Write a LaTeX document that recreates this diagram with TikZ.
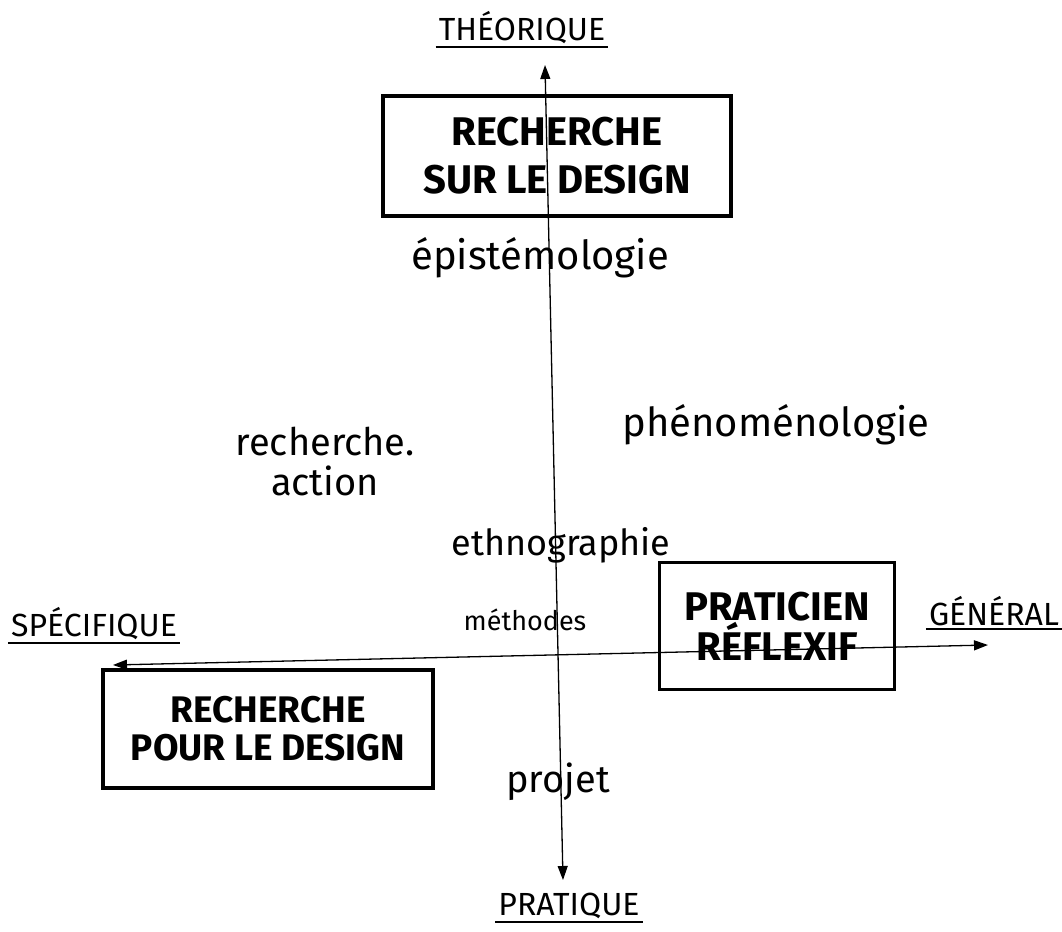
\documentclass[tikz,border=0pt]{standalone}
\usepackage{fontspec}
\setmainfont{Fira Sans}
\usetikzlibrary{arrows.meta}
\begin{document}
\begin{tikzpicture}[x=1pt,y=-1pt,
  boxnode/.style={draw,line width=3.5pt,align=center,inner sep=0pt},
  word/.style={inner sep=0pt,align=center},
  pole/.style={inner sep=3pt,font=\fontsize{32}{34}\selectfont},
  axis/.style={line width=1.3pt,{Triangle[length=14pt,width=10pt]}-{Triangle[length=14pt,width=10pt]}},
  uline/.style={line width=2pt}]
\useasboundingbox (0,0) rectangle (1062,931);
% axes
\coordinate (vtop) at (545,65);
\coordinate (vbot) at (563,880);
\coordinate (hleft) at (113,665);
\coordinate (hright) at (988,645);
\draw[axis] (vtop) -- (vbot);
\draw[axis] (hleft) -- (hright);
% boxes
\node[boxnode,font=\bfseries\fontsize{40}{44}\selectfont,minimum width=348pt,minimum height=120pt] (sur) at (557,156) {RECHERCHE\\[4pt]SUR LE DESIGN};
\node[boxnode,font=\bfseries\fontsize{37}{38}\selectfont,minimum width=330pt,minimum height=118pt] (pour) at (268,729) {RECHERCHE\\POUR LE DESIGN};
\node[boxnode,font=\bfseries\fontsize{40}{38}\selectfont,minimum width=235pt,minimum height=127pt] (prat) at (777,626) {PRATICIEN\\RÉFLEXIF};
% pole labels
\node[pole] (theo) at (522,28) {THÉORIQUE};
\draw[uline] (theo.south west) -- (theo.south east);
\node[pole] (praq) at (569,906) {PRATIQUE};
\draw[uline] (praq.south west) -- (praq.south east);
\node[pole] (spec) at (94,624) {SPÉCIFIQUE};
\draw[uline] (spec.south west) -- (spec.south east);
\node[pole] (gen) at (994,611) {GÉNÉRAL};
\draw[uline] (gen.south west) -- (gen.south east);
% free words
\node[word,font=\fontsize{40}{42}\selectfont] (epi) at (540,258) {épistémologie};
\node[word,font=\fontsize{40}{42}\selectfont] (phe) at (776,425) {phénoménologie};
\node[word,font=\fontsize{38}{40}\selectfont] (ra) at (325,462) {recherche.\\action};
\node[word,font=\fontsize{36}{38}\selectfont] (eth) at (561,545) {ethnographie};
\node[word,font=\fontsize{27}{28}\selectfont] (meth) at (525,620) {méthodes};
\node[word,font=\fontsize{38}{40}\selectfont] (proj) at (558,782) {projet};
\end{tikzpicture}
\end{document}
